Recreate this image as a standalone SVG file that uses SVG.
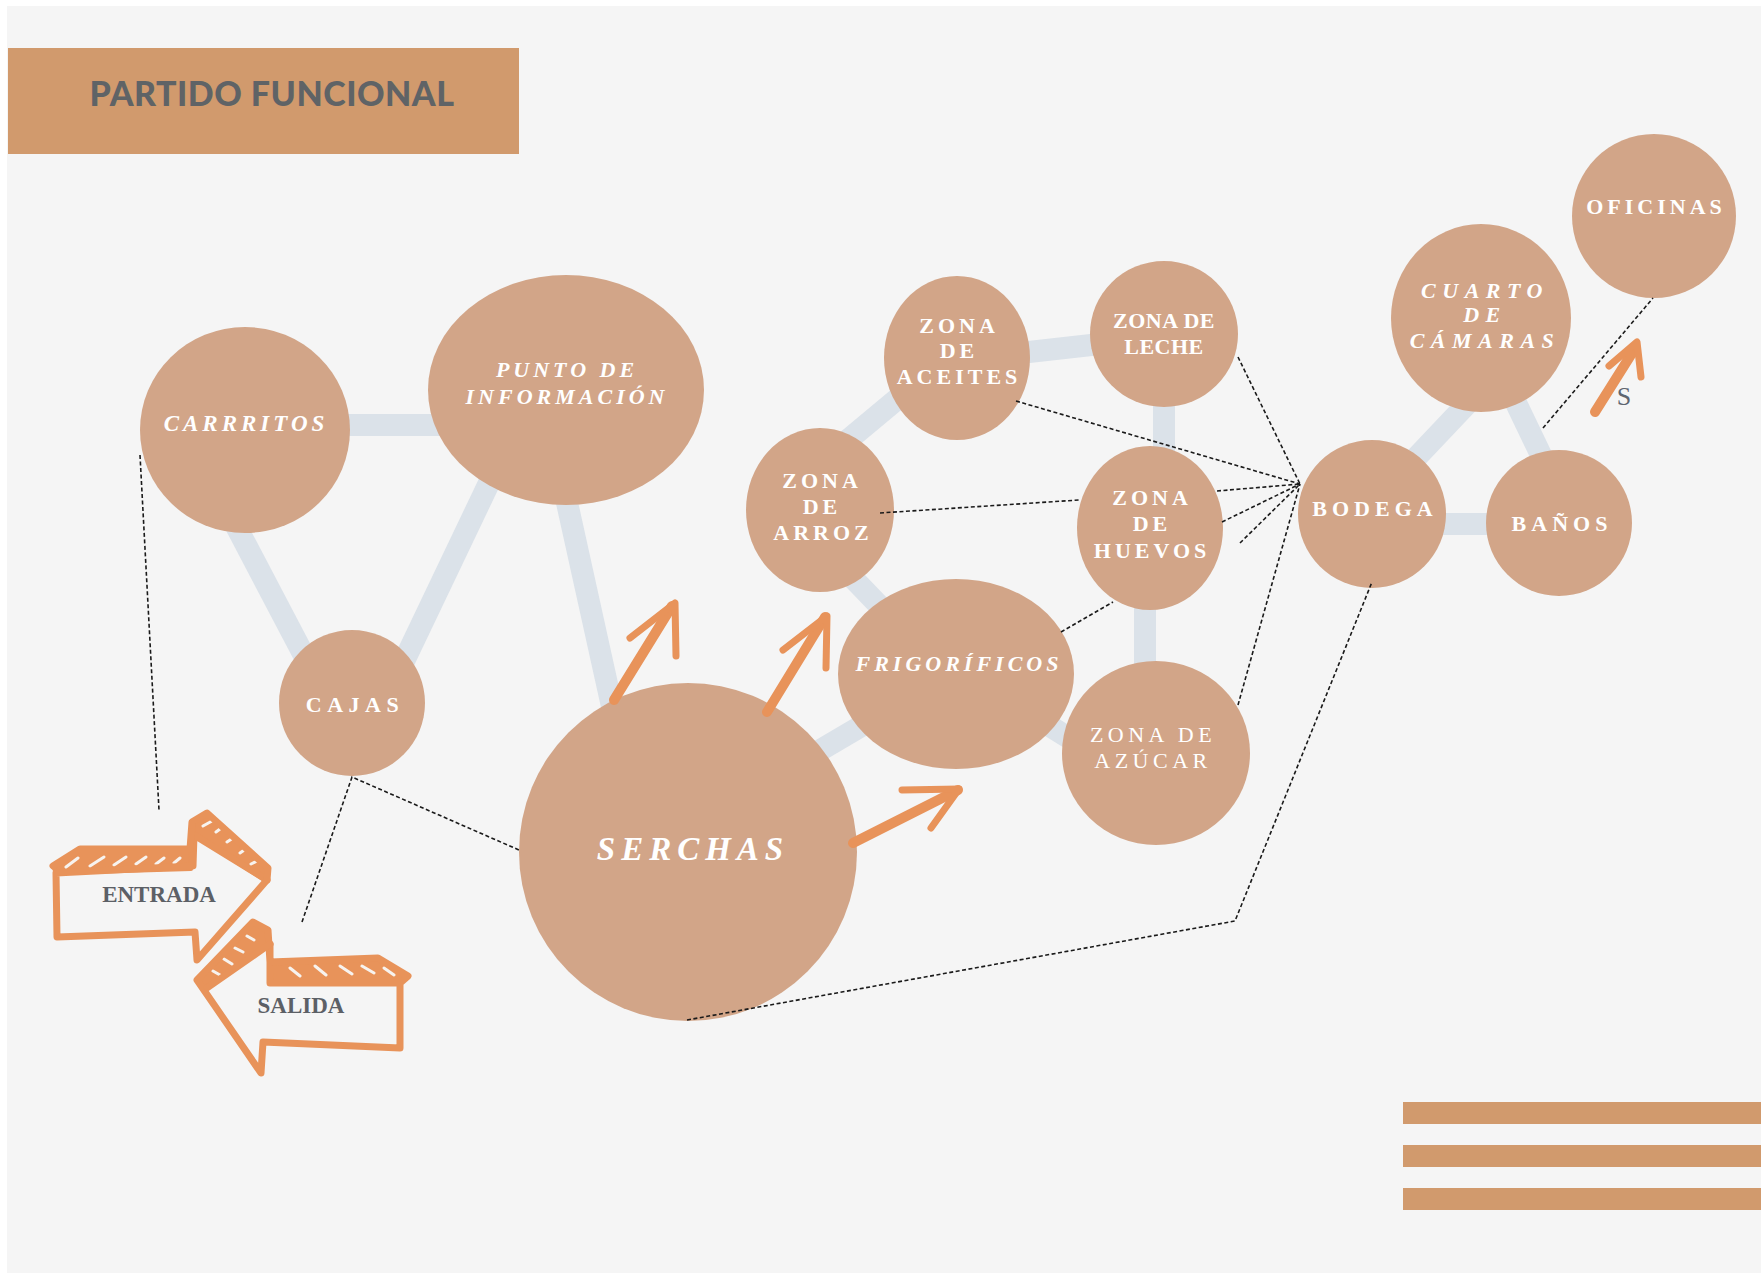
<svg xmlns="http://www.w3.org/2000/svg" width="1761" height="1273" viewBox="0 0 1761 1273">
<style>
.bg{fill:#f5f5f5}
.node{fill:#d2a588}
.lk{stroke:#dbe2e9;stroke-width:22;fill:none;stroke-linecap:butt}
.ds{stroke:#1a1a1a;stroke-width:1.6;stroke-dasharray:4 2.5;fill:none}
.or{stroke:#e8935a;stroke-width:10;fill:none;stroke-linecap:round;stroke-linejoin:round}
.ow{stroke:#e8935a;stroke-width:7;fill:none;stroke-linecap:round;stroke-linejoin:round}
.of{fill:#e8935a;stroke:#e8935a;stroke-width:4;stroke-linejoin:round}
.wh{stroke:#f7f3ef;stroke-width:3;fill:none;stroke-linecap:round}
.t{fill:#ffffff;font-family:"Liberation Serif","Times New Roman",serif;font-weight:bold;font-size:22px;text-anchor:middle;letter-spacing:4px}
.i{font-style:italic}
.g{fill:#5c6066;font-family:"Liberation Serif","Times New Roman",serif;font-weight:bold;font-size:23px;text-anchor:middle}
.bar{fill:#d19a6d}
</style>
<rect x="0" y="0" width="1761" height="1273" fill="#ffffff"/>
<rect class="bg" x="7" y="6" width="1754" height="1267"/>

<g id="title">
<rect class="bar" x="8" y="48" width="511" height="106"/>
<text x="272" y="106" fill="#5f6366" font-family="Lato,'Liberation Sans',sans-serif" font-weight="900" font-size="34" text-anchor="middle" letter-spacing="0.5">PARTIDO FUNCIONAL</text>
</g>

<g id="links-gray">
<line class="lk" x1="340" y1="425" x2="440" y2="425"/>
<line class="lk" x1="225" y1="505" x2="330" y2="705"/>
<line class="lk" x1="500" y1="460" x2="395" y2="680"/>
<line class="lk" x1="562" y1="480" x2="615" y2="720"/>
<line class="lk" x1="830" y1="455" x2="920" y2="380"/>
<line class="lk" x1="1020" y1="353" x2="1100" y2="344"/>
<line class="lk" x1="1164" y1="395" x2="1164" y2="460"/>
<line class="lk" x1="845" y1="570" x2="895" y2="622"/>
<line class="lk" x1="1145" y1="600" x2="1145" y2="670"/>
<line class="lk" x1="1040" y1="720" x2="1085" y2="748"/>
<line class="lk" x1="790" y1="768" x2="880" y2="715"/>
<line class="lk" x1="1395" y1="480" x2="1485" y2="385"/>
<line class="lk" x1="1505" y1="380" x2="1552" y2="478"/>
<line class="lk" x1="1430" y1="524" x2="1500" y2="524"/>
</g>

<g id="n-carrritos"><ellipse class="node" cx="245" cy="430" rx="105" ry="103"/><text class="t i" x="246" y="431" style="font-size:23px;letter-spacing:4px">CARRRITOS</text></g>
<g id="n-punto"><ellipse class="node" cx="566" cy="390" rx="138" ry="115"/><text class="t i" x="567" y="377">PUNTO DE</text><text class="t i" x="567" y="404">INFORMACIÓN</text></g>
<g id="n-cajas"><ellipse class="node" cx="352" cy="703" rx="73" ry="73"/><text class="t" x="355" y="712" style="letter-spacing:5.5px">CAJAS</text></g>
<g id="n-serchas"><circle class="node" cx="688" cy="852" r="169"/><text class="t i" x="693" y="860" style="font-size:33px;letter-spacing:6px">SERCHAS</text></g>
<g id="n-aceites"><ellipse class="node" cx="957" cy="358" rx="73" ry="82"/><text class="t" x="959" y="333">ZONA</text><text class="t" x="959" y="358">DE</text><text class="t" x="959" y="384">ACEITES</text></g>
<g id="n-leche"><ellipse class="node" cx="1164" cy="334" rx="74" ry="73"/><text class="t" x="1164" y="328" style="letter-spacing:0.5px">ZONA DE</text><text class="t" x="1164" y="354" style="letter-spacing:0.5px">LECHE</text></g>
<g id="n-arroz"><ellipse class="node" cx="820" cy="510" rx="74" ry="82"/><text class="t" x="822" y="488">ZONA</text><text class="t" x="822" y="514">DE</text><text class="t" x="823" y="540">ARROZ</text></g>
<g id="n-huevos"><ellipse class="node" cx="1150" cy="528" rx="73" ry="82"/><text class="t" x="1152" y="505">ZONA</text><text class="t" x="1152" y="531">DE</text><text class="t" x="1152" y="558">HUEVOS</text></g>
<g id="n-frigorificos"><ellipse class="node" cx="956" cy="674" rx="118" ry="95"/><text class="t i" x="959" y="671">FRIGORÍFICOS</text></g>
<g id="n-azucar"><ellipse class="node" cx="1156" cy="753" rx="94" ry="92"/><text class="t" x="1153" y="742" style="font-weight:normal;letter-spacing:4.5px">ZONA DE</text><text class="t" x="1153" y="768" style="font-weight:normal;letter-spacing:4.5px">AZÚCAR</text></g>
<g id="n-bodega"><circle class="node" cx="1372" cy="514" r="74"/><text class="t" x="1375" y="516" style="letter-spacing:5px">BODEGA</text></g>
<g id="n-banos"><circle class="node" cx="1559" cy="523" r="73"/><text class="t" x="1562" y="531" style="letter-spacing:5px">BAÑOS</text></g>
<g id="n-cuarto"><ellipse class="node" cx="1481" cy="318" rx="90" ry="94"/><text class="t i" x="1485" y="298" style="letter-spacing:6.5px">CUARTO</text><text class="t i" x="1485" y="322" style="letter-spacing:6.5px">DE</text><text class="t i" x="1485" y="348" style="letter-spacing:6.5px">CÁMARAS</text></g>
<g id="n-oficinas"><circle class="node" cx="1654" cy="216" r="82"/><text class="t" x="1656" y="214">OFICINAS</text></g>

<g id="connectors">
<polyline class="ds" points="140,455 159,810"/>
<polyline class="ds" points="302,922 352,777 519,850"/>
<polyline class="ds" points="687,1020 1235,921 1372,582"/>
<line class="ds" x1="1016" y1="401" x2="1300" y2="484"/>
<line class="ds" x1="880" y1="513" x2="1079" y2="500"/>
<line class="ds" x1="1217" y1="491" x2="1300" y2="484"/>
<line class="ds" x1="1222" y1="522" x2="1300" y2="484"/>
<line class="ds" x1="1240" y1="543" x2="1300" y2="484"/>
<line class="ds" x1="1238" y1="357" x2="1300" y2="484"/>
<line class="ds" x1="1238" y1="705" x2="1300" y2="484"/>
<line class="ds" x1="1061" y1="632" x2="1113" y2="602"/>
<line class="ds" x1="1543" y1="428" x2="1653" y2="298"/>
</g>

<g id="arrows">
<line class="or" x1="614" y1="700" x2="672" y2="606"/>
<polyline class="ow" points="630,638 675,603 676,656"/>
<line class="or" x1="767" y1="712" x2="825" y2="617"/>
<polyline class="ow" points="783,650 827,616 826,668"/>
<line class="or" x1="853" y1="843" x2="958" y2="790"/>
<polyline class="ow" points="902,790 959,789 931,828"/>
<line class="or" x1="1595" y1="412" x2="1634" y2="350"/>
<polyline class="ow" points="1609,366 1637,342 1641,377"/>
<text x="1624" y="405" fill="#5f6670" font-family="'Liberation Serif',serif" font-size="26" text-anchor="middle">S</text>
</g>

<g id="entrada">
<path class="of" d="M53,866 L80,849 L190,849 L191,869 L56,873 Z"/>
<path class="of" d="M192,822 L207,813 L268,868 L266,881 L194,835 Z"/>
<path class="wh" d="M66,867 L78,858 M90,866 L104,857 M114,865 L126,857 M136,864 L146,857 M156,864 L164,858 M174,863 L180,858 M203,826 L212,821 M216,832 L224,826 M227,842 L236,836 M240,853 L247,848 M251,864 L257,861"/>
<path class="ow" d="M56,873 L57,937 L195,932 L197,960 L267,880 L194,835 L193,866 L56,873"/>
<path class="ow" d="M53,866 L80,849 L190,849 L192,822 L207,813 L268,868 L267,880"/>
<text class="g" x="159" y="902">ENTRADA</text>
</g>
<g id="salida">
<path class="of" d="M197,980 L253,922 L268,930 L270,944 L207,988 Z"/>
<path class="of" d="M270,962 L378,958 L408,976 L400,983 L272,983 Z"/>
<path class="wh" d="M213,971 L220,975 M224,959 L232,964 M235,948 L243,952 M247,936 L254,940 M290,968 L300,976 M315,966 L326,975 M340,966 L352,974 M362,966 L374,973 M384,968 L394,975"/>
<path class="ow" d="M270,944 L270,983 L400,983 L400,1048 L263,1042 L261,1073 L197,980 L253,922 L268,930 L270,962 L378,958 L408,976 L400,983"/>
<path class="ow" d="M207,988 L270,944"/>
<text class="g" x="301" y="1013">SALIDA</text>
</g>

<g id="bars">
<rect class="bar" x="1403" y="1102" width="358" height="22"/>
<rect class="bar" x="1403" y="1145" width="358" height="22"/>
<rect class="bar" x="1403" y="1188" width="358" height="22"/>
</g>
</svg>
